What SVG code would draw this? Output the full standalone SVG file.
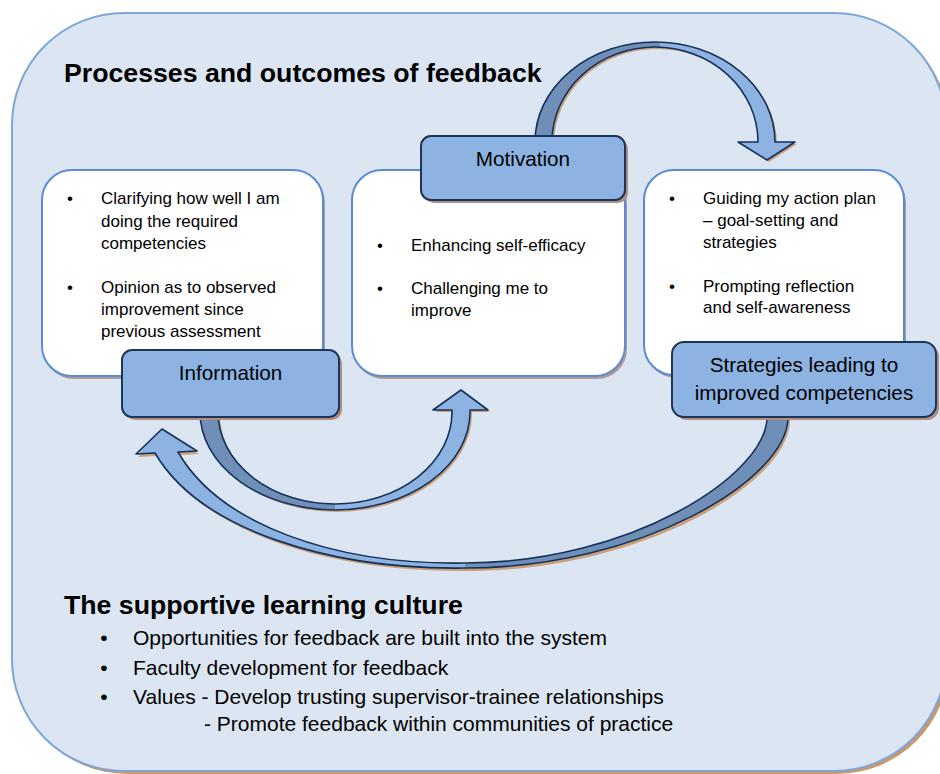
<svg xmlns="http://www.w3.org/2000/svg" width="940" height="774" viewBox="0 0 940 774">
<defs>
<style>
.t{font-family:"Liberation Sans",Arial,sans-serif;fill:#000}
.h{font-size:26.7px;font-weight:bold}
.b{font-size:17px}
.lb{font-size:20.7px}
.c{font-size:21px}
.wb{fill:#fff;stroke:#5b8bd6;stroke-width:2}
.wbs{fill:#b39a90}
.blue{fill:#8db3e2;stroke:#1d3658;stroke-width:2}
.bls{fill:#b08c82}
.dark{fill:#6f8fb8}
.light{fill:#8db3e2}
.outl{fill:none;stroke:#16325a;stroke-width:1.6;stroke-linejoin:round}
.ash{fill:#c9a07a}
</style>
</defs>
<g id="background">
<rect x="15" y="16" width="934" height="758" rx="112" fill="#c8996e"/>
<rect x="12" y="13" width="934" height="758" rx="112" fill="#dce6f2" stroke="#7fa6d9" stroke-width="2"/>
<text class="t h" x="64" y="82">Processes and outcomes of feedback</text>
</g>
<g id="box-information-detail">
<rect class="wbs" x="44" y="173" width="281" height="206" rx="30"/>
<rect class="wb" x="42" y="170" width="281" height="206" rx="30"/>
<text class="t b" x="70" y="204" text-anchor="middle">•</text>
<text class="t b" x="101" y="204">Clarifying how well I am</text>
<text class="t b" x="101" y="227">doing the required</text>
<text class="t b" x="101" y="249">competencies</text>
<text class="t b" x="70" y="293" text-anchor="middle">•</text>
<text class="t b" x="101" y="293">Opinion as to observed</text>
<text class="t b" x="101" y="315">improvement since</text>
<text class="t b" x="101" y="337">previous assessment</text>
</g>
<g id="box-motivation-detail">
<rect class="wbs" x="354" y="173" width="273" height="206" rx="30"/>
<rect class="wb" x="352" y="170" width="273" height="206" rx="30"/>
<text class="t b" x="380" y="251" text-anchor="middle">•</text>
<text class="t b" x="411" y="251">Enhancing self-efficacy</text>
<text class="t b" x="380" y="294" text-anchor="middle">•</text>
<text class="t b" x="411" y="294">Challenging me to</text>
<text class="t b" x="411" y="316">improve</text>
</g>
<g id="box-strategies-detail">
<rect class="wbs" x="646" y="173" width="260" height="205" rx="30"/>
<rect class="wb" x="644" y="170" width="260" height="205" rx="30"/>
<text class="t b" x="672" y="204" text-anchor="middle">•</text>
<text class="t b" x="703" y="204">Guiding my action plan</text>
<text class="t b" x="703" y="226">– goal-setting and</text>
<text class="t b" x="703" y="248">strategies</text>
<text class="t b" x="672" y="292" text-anchor="middle">•</text>
<text class="t b" x="703" y="292">Prompting reflection</text>
<text class="t b" x="703" y="313">and self-awareness</text>
</g>
<g id="connectors">
<g id="arrow-motivation-strategies">
<path class="ash" transform="translate(2,2)" d="M535,142 A120 100 0 0 1 775,142 L795,142 L767,160 L738,142 L758,142 A103 95 0 0 0 552,142 Z"/>
<path class="dark" d="M535,142 A120 100 0 0 1 775,142 L795,142 L767,160 L738,142 L758,142 A103 95 0 0 0 552,142 Z"/>
<path class="light" d="M660,42.2 A120 100 0 0 1 775,142 L795,142 L767,160 L738,142 L758,142 A103 95 0 0 0 660,47.1 Z"/>
<path class="outl" d="M535,142 A120 100 0 0 1 775,142 L795,142 L767,160 L738,142 L758,142 A103 95 0 0 0 552,142"/>
</g>
<g id="arrow-information-motivation">
<path class="ash" transform="translate(2,2)" d="M200,405 L200,412 A135 98 0 0 0 470,412 L470,410 L488,410 L461,390 L433,410 L452,410 L452,412 A117 92 0 0 1 218,412 L218,405 Z"/>
<path class="dark" d="M200,405 L200,412 A135 98 0 0 0 470,412 L470,410 L488,410 L461,390 L433,410 L452,410 L452,412 A117 92 0 0 1 218,412 L218,405 Z"/>
<path class="light" d="M335,510 A135 98 0 0 0 470,412 L470,410 L488,410 L461,390 L433,410 L452,410 L452,412 A117 92 0 0 1 335,504 Z"/>
<path class="outl" d="M200,405 L200,412 A135 98 0 0 0 470,412 L470,410 L488,410 L461,390 L433,410 L452,410 L452,412 A117 92 0 0 1 218,412 L218,405"/>
</g>
<g id="arrow-strategies-information">
<path class="ash" transform="translate(2,3)" d="M788,408 L788,417 C788,480 640,568 465,568 C330,570 200,530 155,453 L136,454 L162,429 L197,451 L178,452 C220,525 335,565 465,563 C630,563 767,475 767,417 L767,408 Z"/>
<path class="dark" d="M788,408 L788,417 C788,480 640,568 465,568 C330,570 200,530 155,453 L136,454 L162,429 L197,451 L178,452 C220,525 335,565 465,563 C630,563 767,475 767,417 L767,408 Z"/>
<path class="light" d="M465,568 C330,570 200,530 155,453 L136,454 L162,429 L197,451 L178,452 C220,525 335,565 465,563 Z"/>
<path class="outl" d="M788,408 L788,417 C788,480 640,568 465,568 C330,570 200,530 155,453 L136,454 L162,429 L197,451 L178,452 C220,525 335,565 465,563 C630,563 767,475 767,417 L767,408"/>
</g>
</g>
<g id="node-motivation">
<rect class="bls" x="424" y="139" width="204" height="64" rx="10"/>
<rect class="blue" x="421" y="136" width="204" height="64" rx="10"/>
<text class="t lb" x="523" y="166" text-anchor="middle">Motivation</text>
</g>
<g id="node-information">
<rect class="bls" x="125" y="353" width="217" height="67" rx="10"/>
<rect class="blue" x="122" y="350" width="217" height="67" rx="10"/>
<text class="t lb" x="230.5" y="380" text-anchor="middle">Information</text>
</g>
<g id="node-strategies">
<rect class="bls" x="675" y="345" width="264" height="75" rx="12"/>
<rect class="blue" x="672" y="342" width="264" height="75" rx="12"/>
<text class="t lb" x="804" y="372" text-anchor="middle">Strategies leading to</text>
<text class="t lb" x="804" y="400" text-anchor="middle">improved competencies</text>
</g>
<g id="culture">
<text class="t h" x="64" y="614">The supportive learning culture</text>
<text class="t c" x="104" y="645" text-anchor="middle">•</text>
<text class="t c" x="133" y="645">Opportunities for feedback are built into the system</text>
<text class="t c" x="104" y="675" text-anchor="middle">•</text>
<text class="t c" x="133" y="675">Faculty development for feedback</text>
<text class="t c" x="104" y="704" text-anchor="middle">•</text>
<text class="t c" x="133" y="704">Values - Develop trusting supervisor-trainee relationships</text>
<text class="t c" x="204" y="731">- Promote feedback within communities of practice</text>
</g>
</svg>
